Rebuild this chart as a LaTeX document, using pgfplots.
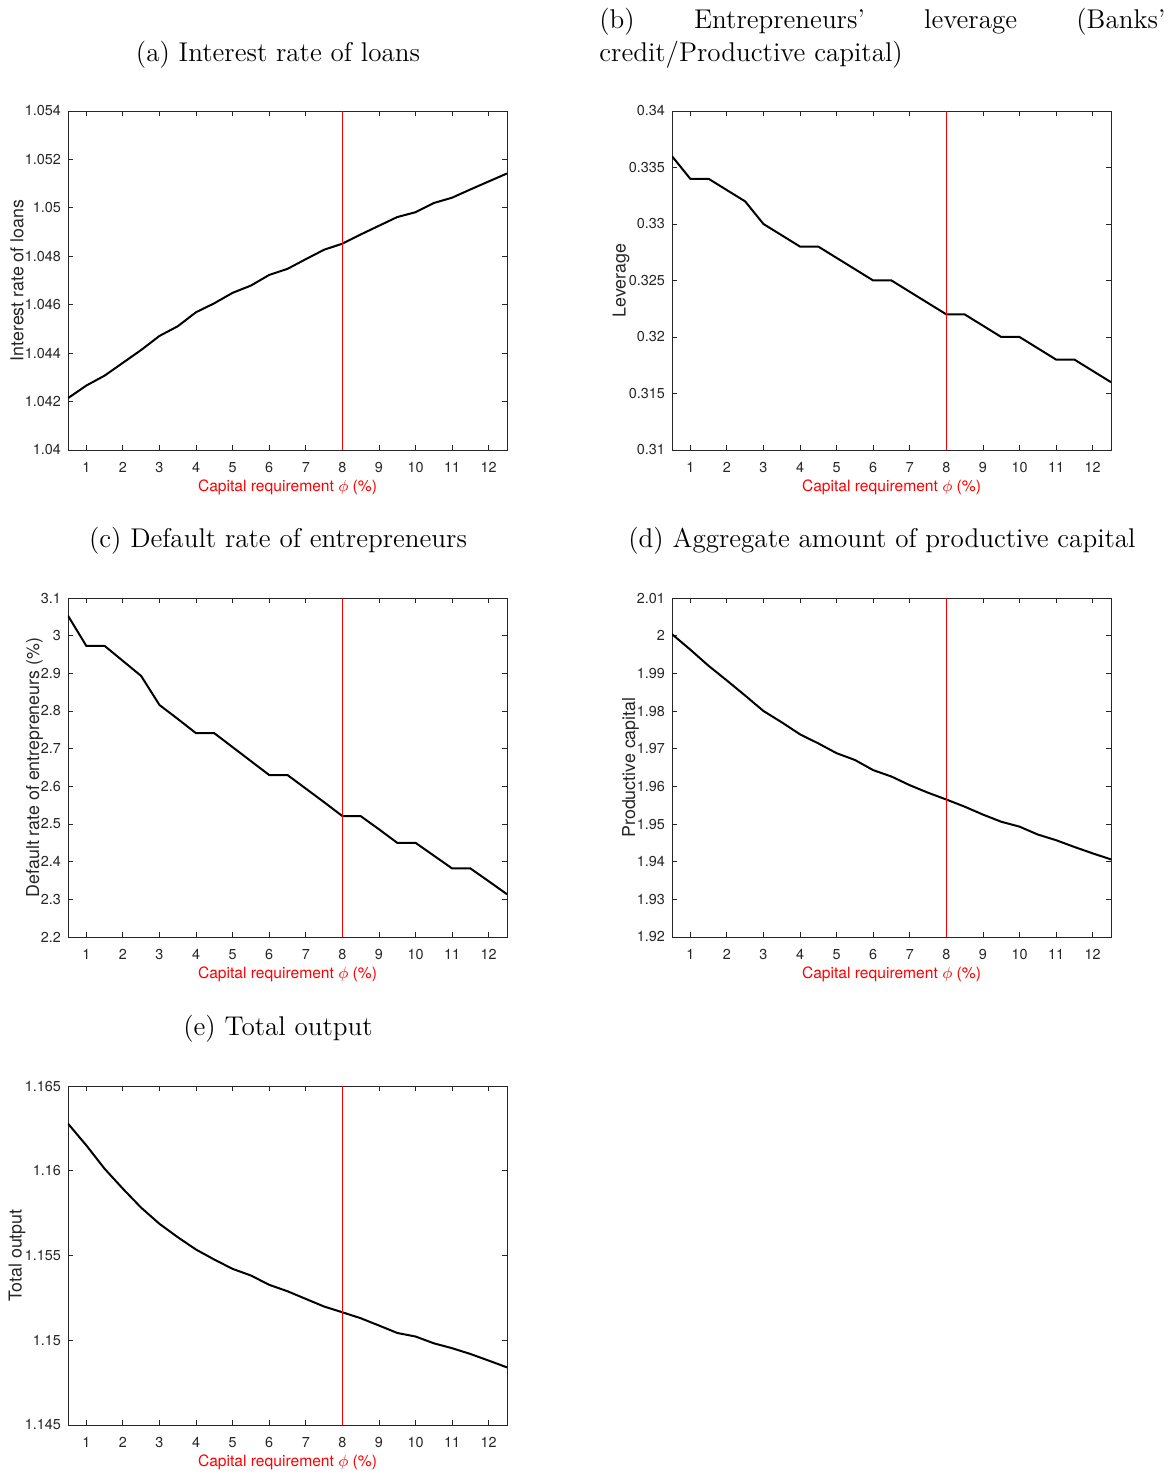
\documentclass[border=0pt]{standalone}
\usepackage{fontspec}
\setsansfont{TeX Gyre Heros}
\usepackage{pgfplots}
\pgfplotsset{compat=1.18}
\definecolor{axgray}{RGB}{38,38,38}
\pgfplotsset{
  myax/.style={
    scale only axis, width=219.5pt, height=169.5pt,
    anchor=south west,
    xmin=0.5, xmax=12.5, xtick={1,...,12},
    tick align=inside, major tick length=2.5pt,
    axis line style={axgray, line width=0.4pt},
    every tick/.style={axgray, line width=0.4pt},
    tick label style={font=\sffamily\fontsize{7.2}{8}\selectfont, text=axgray},
    x tick label style={yshift=-2.5pt},
    /pgf/number format/assume math mode=true,
    y tick label style={/pgf/number format/fixed, /pgf/number format/precision=3},
    scaled y ticks=false,
    xlabel={Capital requirement $\phi$ (\%)},
    xlabel style={font=\sffamily\fontsize{7.8}{9}\selectfont, text=red,
      at={(axis description cs:0.5,-0.109)}, anchor=center},
    ylabel style={font=\sffamily\fontsize{8.9}{10}\selectfont, text=axgray, anchor=center},
  },
  curve/.style={black, line width=1pt, mark=none},
  vline/.style={red, line width=0.5pt, mark=none},
}
\newcommand{\ttl}{\fontsize{13.55}{16.3}\selectfont}
\begin{document}
\begin{tikzpicture}[x=1pt,y=1pt]
\path[use as bounding box] (0,0) rectangle (586,737);

% titles
\node[anchor=base] at (139,706.3) {\ttl (a) Interest rate of loans};
\node[anchor=base west, inner sep=0pt] at (299.5,722.6) {\ttl\makebox[283pt][s]{(b) Entrepreneurs' leverage (Banks'}};
\node[anchor=base west, inner sep=0pt] at (299.5,706.3) {\ttl credit/Productive capital)};
\node[anchor=base] at (139,463) {\ttl (c) Default rate of entrepreneurs};
\node[anchor=base] at (441,463) {\ttl (d) Aggregate amount of productive capital};
\node[anchor=base] at (139,219) {\ttl (e) Total output};

% (a)
\begin{axis}[myax, at={(34pt,512pt)}, ymin=1.04, ymax=1.054,
  ytick={1.04,1.042,1.044,1.046,1.048,1.05,1.052,1.054},
  ylabel={Interest rate of loans},
  ylabel style={at={(axis description cs:-0.116,0.5)}}]
\addplot[curve] coordinates {
(0.5,1.04214) (1,1.04266) (1.5,1.04307) (2,1.0436) (2.5,1.04413) (3,1.04471)
(3.5,1.04511) (4,1.04569) (4.5,1.04606) (5,1.04649) (5.5,1.04679) (6,1.04723)
(6.5,1.04748) (7,1.04788) (7.5,1.04827) (8,1.04852) (8.5,1.0489) (9,1.04926)
(9.5,1.04962) (10,1.04982) (10.5,1.0502) (11,1.05042) (11.5,1.05076) (12,1.05109)
(12.5,1.05142)};
\addplot[vline] coordinates {(8,1.04) (8,1.054)};
\end{axis}

% (b)
\begin{axis}[myax, at={(336pt,512pt)}, ymin=0.31, ymax=0.34,
  ytick={0.31,0.315,0.32,0.325,0.33,0.335,0.34},
  ylabel={Leverage},
  ylabel style={at={(axis description cs:-0.116,0.5)}}]
\addplot[curve] coordinates {
(0.5,0.336) (1,0.334) (1.5,0.334) (2,0.333) (2.5,0.332) (3,0.330)
(3.5,0.329) (4,0.328) (4.5,0.328) (5,0.327) (5.5,0.326) (6,0.325)
(6.5,0.325) (7,0.324) (7.5,0.323) (8,0.322) (8.5,0.322) (9,0.321)
(9.5,0.320) (10,0.320) (10.5,0.319) (11,0.318) (11.5,0.318) (12,0.317)
(12.5,0.316)};
\addplot[vline] coordinates {(8,0.31) (8,0.34)};
\end{axis}

% (c)
\begin{axis}[myax, at={(34pt,268.5pt)}, ymin=2.2, ymax=3.1,
  ytick={2.2,2.3,2.4,2.5,2.6,2.7,2.8,2.9,3,3.1},
  ylabel={Default rate of entrepreneurs (\%)},
  ylabel style={at={(axis description cs:-0.0763,0.5)}}]
\addplot[curve] coordinates {
(0.5,3.053) (1,2.973) (1.5,2.973) (2,2.933) (2.5,2.893) (3,2.816)
(3.5,2.779) (4,2.741) (4.5,2.741) (5,2.704) (5.5,2.667) (6,2.630)
(6.5,2.630) (7,2.594) (7.5,2.558) (8,2.521) (8.5,2.521) (9,2.486)
(9.5,2.450) (10,2.450) (10.5,2.416) (11,2.382) (11.5,2.382) (12,2.348)
(12.5,2.3135)};
\addplot[vline] coordinates {(8,2.2) (8,3.1)};
\end{axis}

% (d)
\begin{axis}[myax, at={(336pt,268.5pt)}, ymin=1.92, ymax=2.01,
  ytick={1.92,1.93,1.94,1.95,1.96,1.97,1.98,1.99,2,2.01},
  ylabel={Productive capital},
  ylabel style={at={(axis description cs:-0.0945,0.5)}}]
\addplot[curve] coordinates {
(0.5,2.0004) (1,1.9963) (1.5,1.992) (2,1.9881) (2.5,1.9841) (3,1.9800)
(3.5,1.977) (4,1.9738) (4.5,1.9714) (5,1.9688) (5.5,1.967) (6,1.9643)
(6.5,1.9626) (7,1.9603) (7.5,1.9583) (8,1.9565) (8.5,1.9546) (9,1.9525)
(9.5,1.9506) (10,1.9493) (10.5,1.9472) (11,1.9457) (11.5,1.9439) (12,1.9422)
(12.5,1.9406)};
\addplot[vline] coordinates {(8,1.92) (8,2.01)};
\end{axis}

% (e)
\begin{axis}[myax, at={(34pt,24.5pt)}, ymin=1.145, ymax=1.165,
  ytick={1.145,1.15,1.155,1.16,1.165},
  ylabel={Total output},
  ylabel style={at={(axis description cs:-0.116,0.5)}}]
\addplot[curve] coordinates {
(0.5,1.16278) (1,1.1615) (1.5,1.16012) (2,1.15894) (2.5,1.15782) (3,1.15687)
(3.5,1.15608) (4,1.15535) (4.5,1.15476) (5,1.15421) (5.5,1.15382) (6,1.15327)
(6.5,1.15289) (7,1.15244) (7.5,1.15199) (8,1.15165) (8.5,1.1513) (9,1.15087)
(9.5,1.15043) (10,1.15022) (10.5,1.14982) (11,1.14953) (11.5,1.14919) (12,1.1488)
(12.5,1.1484)};
\addplot[vline] coordinates {(8,1.145) (8,1.165)};
\end{axis}
\end{tikzpicture}
\end{document}
